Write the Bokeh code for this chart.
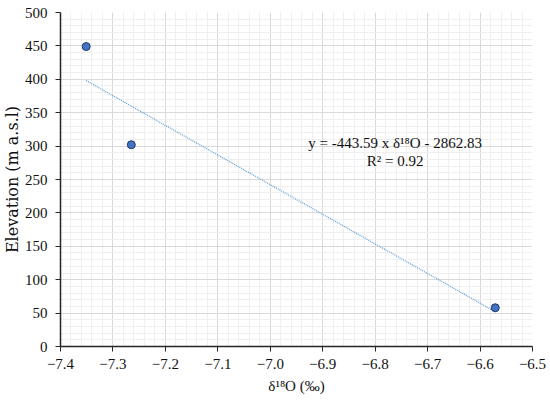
from bokeh.plotting import figure
from bokeh.models import FixedTicker, Range1d, Title
from bokeh.embed import file_html
from bokeh.resources import INLINE
from bokeh.core.properties import value

# data
d18O = [-7.351, -7.265, -6.571]
elevation = [449, 302, 58]
slope = -443.59
intercept = -2862.83
x_ticks = [-7.4, -7.3, -7.2, -7.1, -7.0, -6.9, -6.8, -6.7, -6.6, -6.5]
x_tick_labels = ["−7.4", "−7.3", "−7.2", "−7.1", "−7.0", "−6.9", "−6.8", "−6.7", "−6.6", "−6.5"]
y_ticks = [0, 50, 100, 150, 200, 250, 300, 350, 400, 450, 500]
eq_text = ["y = -443.59 x δ¹⁸O - 2862.83", "R² = 0.92"]
eq_x = [-6.762, -6.762]
eq_y = [305, 277]

FONT = "Liberation Serif"

p = figure(width=550, height=401, output_backend="svg", toolbar_location=None,
           x_range=Range1d(-7.4, -6.5), y_range=Range1d(0, 500),
           min_border_left=58, min_border_right=18, min_border_top=12, min_border_bottom=55)
p.outline_line_color = None

# trendline
tx = [min(d18O), max(d18O)]
ty = [slope * v + intercept for v in tx]
p.line(tx, ty, line_color="#5b9bd5", line_width=1.2, line_dash="1 1")

p.scatter(d18O, elevation, size=8, fill_color="#4472c4", line_color="#1f3864", line_width=1)

p.text(eq_x, eq_y, text=eq_text, text_font=value(FONT), text_font_size="15px",
       text_align="center", text_baseline="middle", text_color="#111111")

for ax in (p.xaxis[0], p.yaxis[0]):
    ax.axis_line_color = "#262626"
    ax.axis_line_width = 1.5
    ax.major_tick_line_color = "#262626"
    ax.major_tick_out = 5
    ax.major_tick_in = 0
    ax.minor_tick_line_color = None
    ax.major_label_text_font = FONT
    ax.major_label_text_font_size = "15px"
    ax.major_label_text_color = "#111111"
    ax.axis_label_text_font = FONT
    ax.axis_label_text_font_size = "15px"
    ax.axis_label_text_font_style = "normal"
    ax.axis_label_text_color = "#111111"

p.xaxis.ticker = FixedTicker(ticks=x_ticks, minor_ticks=[round(-7.4 + i * 0.02, 2) for i in range(46)])
p.xaxis.major_label_overrides = {t: l for t, l in zip(x_ticks, x_tick_labels)}
p.yaxis.ticker = FixedTicker(ticks=y_ticks, minor_ticks=list(range(0, 501, 10)))
p.xaxis.axis_label = "δ¹⁸O (‰)"
p.xaxis.axis_label_standoff = 6
p.xaxis.major_label_standoff = 7
p.yaxis.major_label_standoff = 8

ytitle = Title(text="Elevation (m a.s.l)", align="center", offset=10,
               text_font="DejaVu Serif", text_font_size="16px", text_font_style="normal",
               text_color="#111111", standoff=0)
p.add_layout(ytitle, "left")

for g in (p.xgrid[0], p.ygrid[0]):
    g.grid_line_color = "#d9d9d9"
    g.grid_line_width = 1
    g.minor_grid_line_color = "#efefef"
    g.minor_grid_line_width = 1

open("out.html", "w").write(file_html(p, INLINE))
